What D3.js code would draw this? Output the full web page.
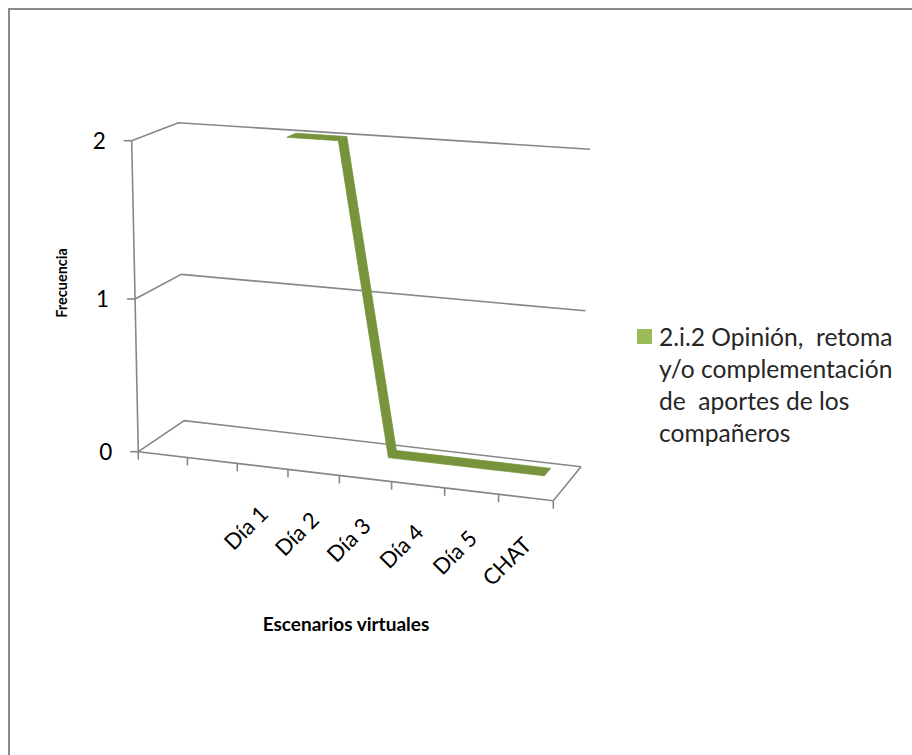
<!DOCTYPE html>
<html>
<head>
<meta charset="utf-8">
<script src="https://cdn.jsdelivr.net/npm/d3@7"></script>
<style>
  html, body { margin: 0; padding: 0; background: #fff; }
  svg { display: block; }
  text { font-family: Lato, "Open Sans", sans-serif; white-space: pre; }
</style>
</head>
<body>
<svg id="chart" width="912" height="755"></svg>
<script>
// Frequency of "2.i.2" contributions per virtual scenario
const categories = ["", "", "Día 1", "Día 2", "Día 3", "Día 4", "Día 5", "CHAT"];
const values = [null, null, 2, 2, 0, 0, 0, 0];
const yTicks = [0, 1, 2];
const legendLines = ["2.i.2 Opinión,  retoma", "y/o complementación", "de  aportes de los", "compañeros"];
const xTitle = "Escenarios virtuales";
const yTitle = "Frecuencia";

const svg = d3.select("#chart");

// chart area frame
svg.append("rect").attr("x", 9).attr("y", 9).attr("width", 920).attr("height", 760)
  .attr("fill", "#fff").attr("stroke", "#8a8a8a").attr("stroke-width", 2);

// 3D box corners on screen: F/B = front/back, L/R = left/right, B/T = bottom/top
const box = {
  FLB: [138.3, 451.7], FRB: [553.3, 500.7], BLB: [184.3, 420.7], BRB: [581, 466.7],
  FLT: [131.7, 140.7], FRT: [563, 169],     BLT: [178.3, 122.7], BRT: [590, 149.3]
};
// perspective foreshortening along the category and value directions
const persp = (t, k) => t * (1 + k) / (1 + k * t);
const lerp = (a, b, t) => [a[0] + (b[0] - a[0]) * t, a[1] + (b[1] - a[1]) * t];
function project(u, w, v) {
  const gu = persp(u, -0.06), hv = persp(v, -0.035);
  const fb = lerp(lerp(box.FLB, box.FRB, gu), lerp(box.FLT, box.FRT, gu), hv);
  const bb = lerp(lerp(box.BLB, box.BRB, gu), lerp(box.BLT, box.BRT, gu), hv);
  return lerp(fb, bb, w);
}

const x = d3.scaleBand().domain(d3.range(categories.length)).range([0, 1]).paddingInner(0).paddingOuter(0);
const y = d3.scaleLinear().domain([0, 2]).range([0, 1]);
const line = d3.line();
const grid = "#878787";

// gridlines along the side wall and back wall
yTicks.forEach(t => {
  const v = y(t);
  svg.append("path")
    .attr("d", line([project(0, 0, v), project(0, 1, v), project(1, 1, v)]))
    .attr("fill", "none").attr("stroke", grid).attr("stroke-width", 1.6);
});
// floor front and right edges
svg.append("path")
  .attr("d", line([project(0, 0, 0), project(1, 0, 0), project(1, 1, 0)]))
  .attr("fill", "none").attr("stroke", grid).attr("stroke-width", 1.6);
// vertical value axis
svg.append("path")
  .attr("d", line([project(0, 0, 0), project(0, 0, 1)]))
  .attr("fill", "none").attr("stroke", grid).attr("stroke-width", 1.6);

// value axis ticks and labels
yTicks.forEach(t => {
  const p = project(0, 0, y(t));
  svg.append("line").attr("x1", p[0] - 8).attr("x2", p[0]).attr("y1", p[1]).attr("y2", p[1])
    .attr("stroke", grid).attr("stroke-width", 1.6);
  svg.append("text").attr("x", p[0] - 26).attr("y", p[1] + 8)
    .attr("text-anchor", "end").attr("font-size", 22.5).attr("fill", "#000").text(t);
});

// category axis ticks
d3.range(categories.length + 1).forEach(i => {
  const p = project(i / categories.length, 0, 0);
  svg.append("line").attr("x1", p[0]).attr("x2", p[0]).attr("y1", p[1]).attr("y2", p[1] + 8)
    .attr("stroke", grid).attr("stroke-width", 1.6);
});
// category labels, rotated
categories.forEach((c, i) => {
  if (!c) return;
  const p = project(x(i) + x.bandwidth() / 2, 0, 0);
  svg.append("text")
    .attr("transform", `translate(${p[0] + 7},${p[1] + 49}) rotate(-45)`)
    .attr("text-anchor", "end").attr("font-size", 22).attr("fill", "#000").text(c);
});

// series ribbon
const w0 = 0.64, w1 = 0.86;
const pts = values.map((v, i) => v == null ? null : { u: x(i) + x.bandwidth() / 2, v: y(v) });
for (let i = 0; i < pts.length - 1; i++) {
  const a = pts[i], b = pts[i + 1];
  if (!a || !b) continue;
  const quad = [project(a.u, w0, a.v), project(b.u, w0, b.v), project(b.u, w1, b.v), project(a.u, w1, a.v)];
  svg.append("path").attr("d", line(quad) + "Z")
    .attr("fill", "#77933C").attr("stroke", "#77933C").attr("stroke-width", 0.8)
    .attr("stroke-linejoin", "round");
}

// axis titles
svg.append("text").attr("x", 346).attr("y", 631).attr("text-anchor", "middle")
  .attr("font-size", 19).attr("font-weight", "bold").attr("fill", "#000").text(xTitle);
svg.append("text").attr("transform", "translate(67,283) rotate(-90)").attr("text-anchor", "middle")
  .attr("font-size", 14.5).attr("font-weight", "bold").attr("fill", "#000").text(yTitle);

// legend
svg.append("rect").attr("x", 637).attr("y", 329).attr("width", 15).attr("height", 15).attr("fill", "#9BBB59");
legendLines.forEach((s, i) => {
  svg.append("text").attr("x", 659).attr("y", 346 + i * 32)
    .attr("font-size", 24.6).attr("fill", "#262626").text(s);
});
</script>
</body>
</html>
